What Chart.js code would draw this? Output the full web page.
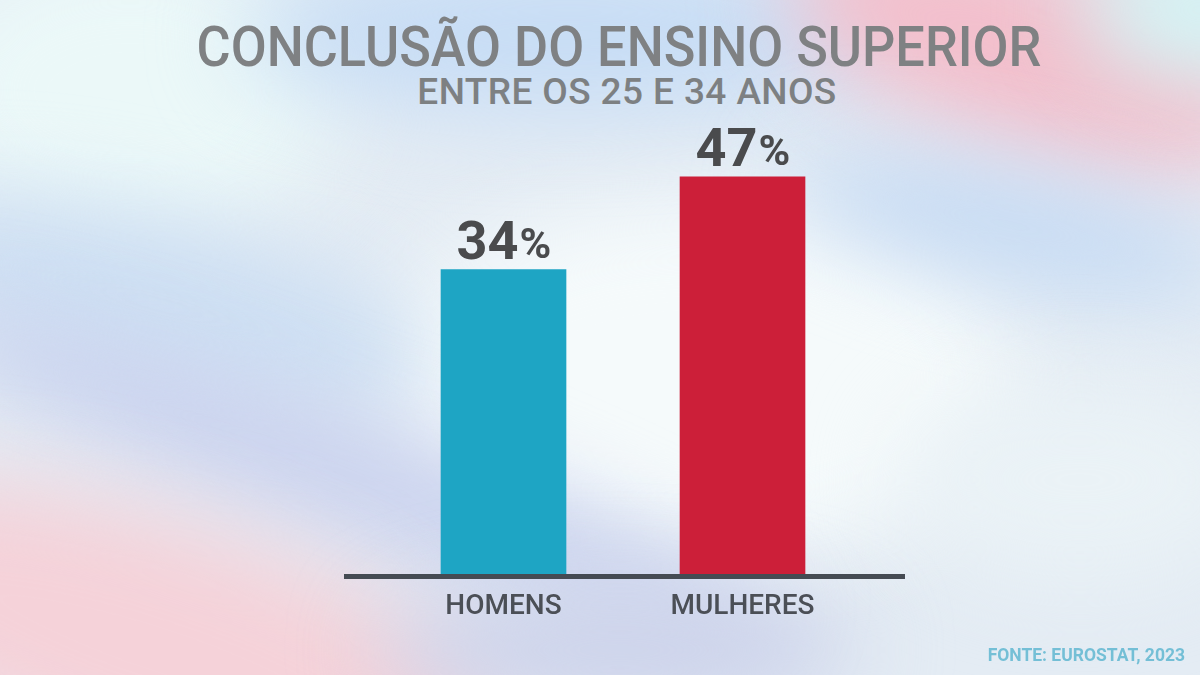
<!DOCTYPE html>
<html>
<head>
<meta charset="utf-8">
<script src="https://cdn.jsdelivr.net/npm/chart.js@4"></script>
<style>
    html, body { margin: 0; padding: 0; }
    body {
        width: 1200px;
        height: 675px;
        overflow: hidden;
        position: relative;
        font-family: Roboto, "Noto Sans", sans-serif;
        background: #e4ecf4;
    }
    #bg { position: absolute; left: 0; top: 0; width: 1200px; height: 675px; overflow: hidden; }
    .blob { position: absolute; border-radius: 50%; filter: blur(45px); }
    #title {
        position: absolute; left: 19px; width: 1200px; top: 17px;
        text-align: center; color: #7f8183;
        font-size: 55px; font-weight: 500; line-height: 60px;
        transform: scaleX(0.95);
    }
    #subtitle {
        position: absolute; left: 27px; width: 1200px; top: 72px;
        text-align: center; color: #7d8082;
        font-size: 37px; font-weight: 500; line-height: 40px;
        letter-spacing: 0.4px;
    }
    #source {
        position: absolute; right: 15px; top: 645px;
        color: #74bfd6; font-size: 17.5px; font-weight: 700;
    }
    #wrap { position: absolute; left: 0; top: 0; width: 1200px; height: 675px; }
</style>
</head>
<body>
<div id="bg">
    <div class="blob" style="left:-80px;top:-60px;width:420px;height:300px;background:#ebf8f8"></div>
    <div class="blob" style="left:380px;top:200px;width:640px;height:360px;background:#f5fafb"></div>
    <div class="blob" style="left:240px;top:-40px;width:660px;height:150px;background:#c6dcf5"></div>
    <div class="blob" style="left:780px;top:-50px;width:500px;height:200px;background:#f3bfcc;transform:rotate(18deg)"></div>
    <div class="blob" style="left:1080px;top:-60px;width:240px;height:140px;background:#d4f3f4"></div>
    <div class="blob" style="left:780px;top:170px;width:460px;height:110px;background:#c6dbf4;transform:rotate(12deg)"></div>
    <div class="blob" style="left:-120px;top:220px;width:560px;height:170px;background:#cddff3;transform:rotate(14deg)"></div>
    <div class="blob" style="left:-100px;top:420px;width:900px;height:110px;background:#c9d1ee;transform:rotate(20deg)"></div>
    <div class="blob" style="left:-220px;top:520px;width:760px;height:260px;background:#f5d2d9;transform:rotate(18deg)"></div>
    <div class="blob" style="left:380px;top:590px;width:480px;height:120px;background:#ccd2ea"></div>
    <div class="blob" style="left:900px;top:380px;width:360px;height:200px;background:#eaf2f6"></div>
</div>
<div id="title">CONCLUSÃO DO ENSINO SUPERIOR</div>
<div id="subtitle">ENTRE OS 25 E 34 ANOS</div>
<div id="wrap"><canvas id="chart"></canvas></div>
<div id="source">FONTE: EUROSTAT, 2023</div>
<script>
const categories = ["HOMENS", "MULHERES"];
const values = [34, 47];
const barColors = ["#1ea5c4", "#cc1f39"];
const valueSuffix = "%";

// the bars in the picture do not start at zero, the base sits a bit below
const axisMin = -9;
const axisMax = 60;

// === Plugins ===
const baseline = {
    id: "baseline",
    afterDatasetsDraw(chart) {
        const { ctx, chartArea, scales } = chart;
        const y = scales.y.getPixelForValue(axisMin);
        ctx.save();
        ctx.strokeStyle = "#454b53";
        ctx.lineWidth = 5;
        ctx.beginPath();
        ctx.moveTo(chartArea.left - 40, y);
        ctx.lineTo(chartArea.right + 43, y);
        ctx.stroke();
        ctx.restore();
    },
};

const valueLabels = {
    id: "valueLabels",
    afterDatasetsDraw(chart) {
        const { ctx } = chart;
        const meta = chart.getDatasetMeta(0);
        ctx.save();
        ctx.fillStyle = "#4a4b4d";
        ctx.textBaseline = "alphabetic";
        meta.data.forEach((bar, i) => {
            const num = String(values[i]);
            ctx.font = "700 54px Roboto";
            const wNum = ctx.measureText(num).width;
            ctx.font = "700 43px Roboto";
            const wPct = ctx.measureText(valueSuffix).width;
            const x0 = bar.x - (wNum + wPct) / 2;
            const y = bar.y - 11;
            ctx.font = "700 54px Roboto";
            ctx.textAlign = "left";
            ctx.fillText(num, x0, y);
            ctx.font = "700 43px Roboto";
            ctx.fillText(valueSuffix, x0 + wNum + 1, y - 1);
        });
        ctx.restore();
    },
};

// === Chart ===
new Chart(document.getElementById("chart"), {
    type: "bar",
    data: {
        labels: categories,
        datasets: [{
            data: values,
            backgroundColor: barColors,
            base: axisMin,
            barThickness: 125,
            borderWidth: 0,
        }],
    },
    options: {
        responsive: true,
        maintainAspectRatio: false,
        animation: false,
        events: [],
        layout: { padding: { left: 384, right: 338, top: 84, bottom: 45 } },
        plugins: {
            legend: { display: false },
            tooltip: { enabled: false },
        },
        scales: {
            x: {
                grid: { display: false },
                border: { display: false },
                ticks: {
                    color: "#4b4f56",
                    font: { family: "Roboto", size: 28, weight: "500" },
                    padding: 6,
                },
            },
            y: {
                display: false,
                min: axisMin,
                max: axisMax,
            },
        },
    },
    plugins: [baseline, valueLabels],
});
</script>
</body>
</html>
